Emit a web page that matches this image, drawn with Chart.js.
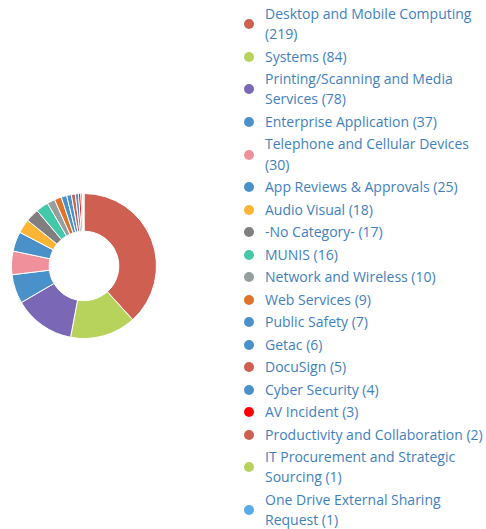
<!DOCTYPE html>
<html>
<head>
<meta charset="utf-8">
<script src="https://cdn.jsdelivr.net/npm/chart.js@4.4.0/dist/chart.umd.min.js"></script>
<style>
    html, body { margin: 0; padding: 0; background: #fff; }
    body { width: 486px; height: 529px; position: relative; overflow: hidden; font-family: "Open Sans", sans-serif; }
    .graficoDona { position: absolute; left: 11px; top: 193px; width: 146px; height: 146px; }
    #leyenda { position: absolute; left: 243px; top: 4px; width: 243px; margin: 0; padding: 0; list-style: none; }
    #leyenda li { position: relative; padding-left: 22px; margin-bottom: 2.3px; font-size: 14px; line-height: 20.2px; color: #3f7fc0; }
    #leyenda li span.punto { position: absolute; left: 1px; top: 50%; width: 10px; height: 10px; margin-top: -5px; border-radius: 50%; }
</style>
</head>
<body>
<div class="graficoDona"><canvas id="GraficoDona"></canvas></div>
<ul id="leyenda"></ul>
<script>
// categorias y conteos
var categorias = ['Desktop and Mobile Computing', 'Systems', 'Printing/Scanning and Media Services',
    'Enterprise Application', 'Telephone and Cellular Devices', 'App Reviews & Approvals',
    'Audio Visual', '-No Category-', 'MUNIS', 'Network and Wireless', 'Web Services',
    'Public Safety', 'Getac', 'DocuSign', 'Cyber Security', 'AV Incident',
    'Productivity and Collaboration', 'IT Procurement and Strategic Sourcing',
    'One Drive External Sharing Request'];
var conteos = [219, 84, 78, 37, 30, 25, 18, 17, 16, 10, 9, 7, 6, 5, 4, 3, 2, 1, 1];
var colores = ['#cf5f51', '#b7d35b', '#7a68b6', '#4b91c9', '#f0909a', '#4b91c9',
    '#fbb433', '#7f7f7f', '#43c9a8', '#959f9e', '#e0732a', '#4b91c9', '#4b91c9',
    '#cf5f51', '#4b91c9', '#ff0000', '#cf5f51', '#b7d35b', '#57aee6'];

var ctx = document.getElementById('GraficoDona').getContext('2d');
var miDona = new Chart(ctx, {
    type: 'doughnut',
    data: {
        labels: categorias,
        datasets: [{
            data: conteos,
            backgroundColor: colores,
            borderColor: '#ffffff',
            borderWidth: 1,
            hoverOffset: 0
        }]
    },
    options: {
        responsive: true,
        maintainAspectRatio: false,
        animation: false,
        cutout: '48%',
        layout: { padding: 0 },
        plugins: {
            legend: { display: false },
            tooltip: { enabled: false }
        }
    }
});

// leyenda en html, sacada de los datos del grafico
var leyenda = document.getElementById('leyenda');
miDona.data.labels.forEach(function (etiqueta, i) {
    var li = document.createElement('li');
    var punto = document.createElement('span');
    punto.className = 'punto';
    punto.style.background = miDona.data.datasets[0].backgroundColor[i];
    li.appendChild(punto);
    li.appendChild(document.createTextNode(etiqueta + ' (' + miDona.data.datasets[0].data[i] + ')'));
    leyenda.appendChild(li);
});
</script>
</body>
</html>
